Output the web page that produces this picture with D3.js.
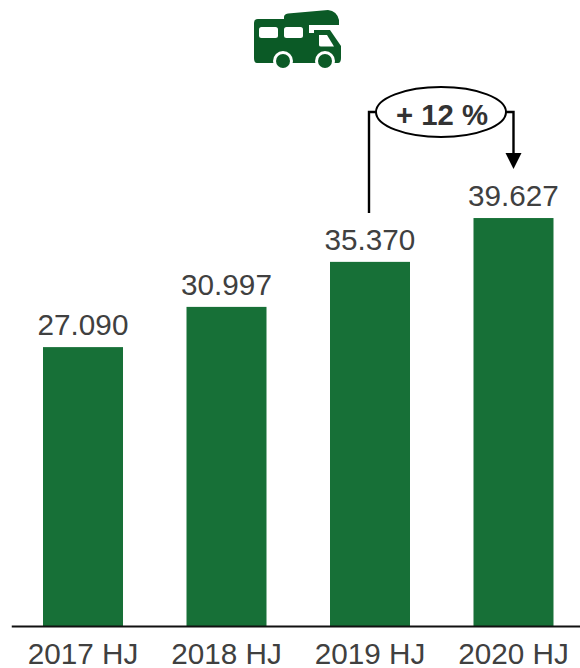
<!DOCTYPE html>
<html><head><meta charset="utf-8">
<script src="https://cdn.jsdelivr.net/npm/d3@7"></script>
<style>html,body{margin:0;padding:0;background:#fff}svg{display:block}text{font-family:"Liberation Sans",Arial,sans-serif}</style>
</head><body><svg id="c" width="580" height="668"></svg>
<script>
const categories = ["2017 HJ","2018 HJ","2019 HJ","2020 HJ"];
const values = [27090,30997,35370,39627];
const valueLabels = ["27.090","30.997","35.370","39.627"];
const changeLabel = "+ 12 %";

const svg = d3.select("#c");
const x = d3.scaleBand().domain(categories).range([11.25,585.25]).paddingInner(0.4425).paddingOuter(0.2213);
const y = d3.scaleLinear().domain([0,40000]).range([626,214.2]);

svg.selectAll("rect.bar").data(values).join("rect").attr("class","bar")
  .attr("x",(d,i)=>x(categories[i])).attr("width",x.bandwidth())
  .attr("y",d=>y(d)).attr("height",d=>y(0)-y(d)).attr("fill","#177037");

svg.selectAll("text.val").data(values).join("text").attr("class","val")
  .attr("x",(d,i)=>x(categories[i])+x.bandwidth()/2).attr("y",d=>y(d)-12)
  .attr("text-anchor","middle").attr("font-size",29.7).attr("fill","#404040")
  .text((d,i)=>valueLabels[i]);

const axis = d3.axisBottom(x).tickSize(0).tickPadding(17);
const gx = svg.append("g").attr("transform","translate(0,626)").call(axis);
gx.select(".domain").attr("stroke","#111").attr("stroke-width",2);
gx.selectAll("text").attr("font-size",29.7).attr("fill","#404040").style("font-family",'"Liberation Sans",Arial,sans-serif');

// change annotation
const cxL = x(categories[2])+x.bandwidth()/2, cxR = x(categories[3])+x.bandwidth()/2;
const ell = {cx:441,cy:112,rx:65,ry:25};
svg.append("path").attr("fill","none").attr("stroke","#000").attr("stroke-width",2.4)
  .attr("d",`M${cxL-1},213V${ell.cy}H${ell.cx-ell.rx}M${ell.cx+ell.rx},${ell.cy}H${cxR}V155`);
svg.append("path").attr("fill","#000").attr("d",`M${cxR-8},153H${cxR+8}L${cxR},169Z`);
svg.append("ellipse").attr("cx",ell.cx).attr("cy",ell.cy).attr("rx",ell.rx).attr("ry",ell.ry)
  .attr("fill","#fff").attr("stroke","#000").attr("stroke-width",2);
svg.append("text").attr("x",ell.cx+1).attr("y",125).attr("text-anchor","middle")
  .attr("font-size",29.3).attr("font-weight","bold").attr("fill","#333").text(changeLabel);

// camper icon
const ic = svg.append("g").attr("fill","#0b5a26");
ic.append("path").attr("d","M258,19H284V17Q284,14 288,13.5L328,10Q337,11 339,20V25H309V33H314V30H330L341,46V58Q341,63 338,63H257Q254,63 254,58V23Q254,19 258,19Z");
ic.append("rect").attr("x",259).attr("y",27).attr("width",19).attr("height",11).attr("rx",2.5).attr("fill","#fff");
ic.append("rect").attr("x",284).attr("y",27).attr("width",19).attr("height",11).attr("rx",2.5).attr("fill","#fff");
ic.append("path").attr("fill","#fff").attr("d","M319,35H327L334,46.5H321Q319,46.5 319,45Z");
[283,325].forEach(cx=>{
  ic.append("circle").attr("cx",cx).attr("cy",61).attr("r",10).attr("fill","#fff");
  ic.append("circle").attr("cx",cx).attr("cy",61).attr("r",7);
});
</script></body></html>
